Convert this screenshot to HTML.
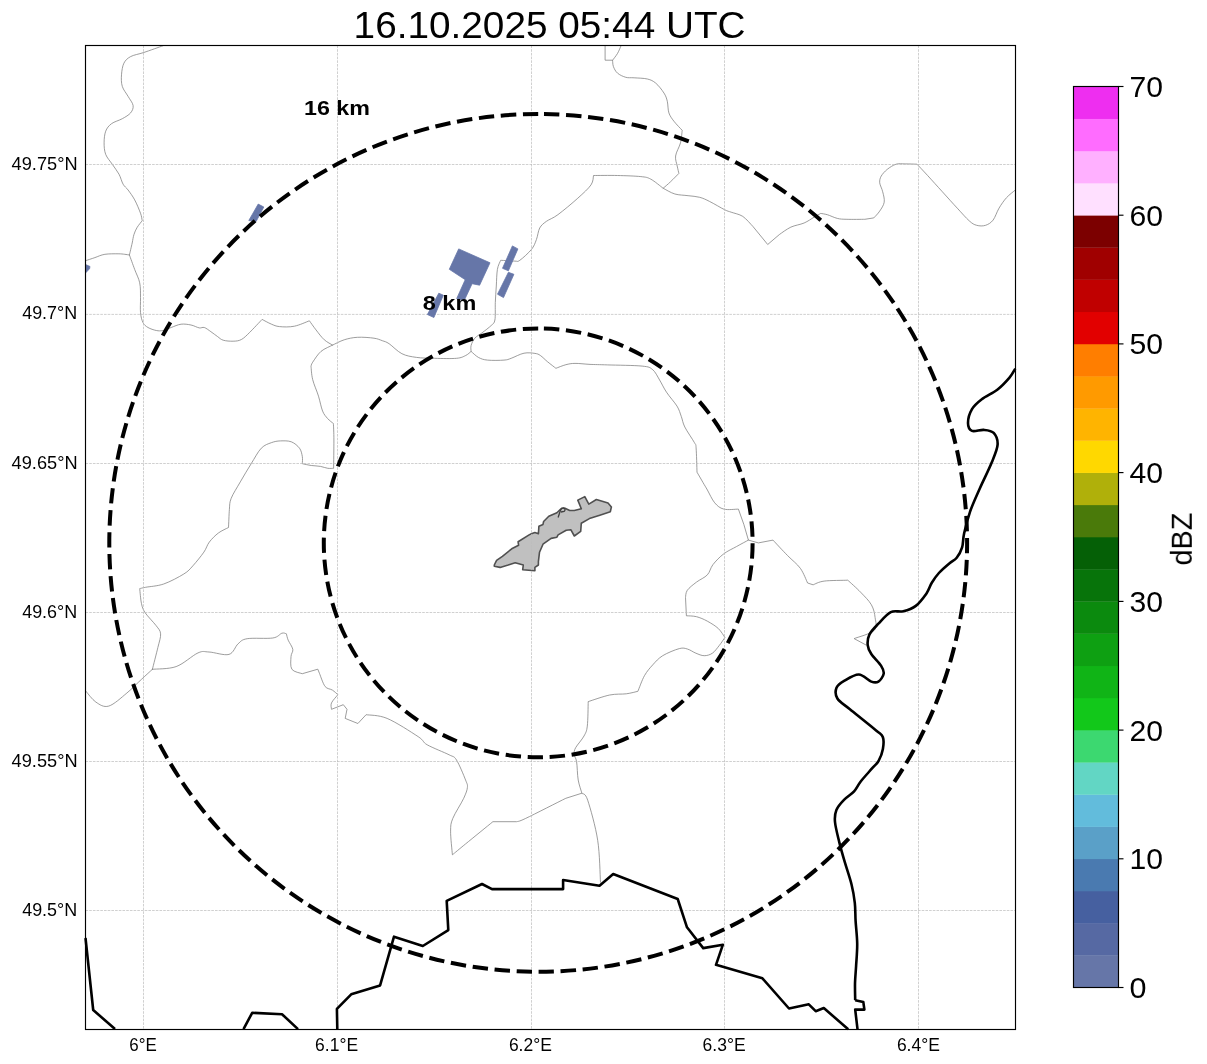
<!DOCTYPE html>
<html><head><meta charset="utf-8"><style>
html,body{margin:0;padding:0;background:#fff;width:1207px;height:1064px;overflow:hidden}
svg{display:block}
</style></head><body>
<svg width="1207" height="1064" viewBox="0 0 1207 1064">
<rect width="1207" height="1064" fill="#fff"/>
<g stroke="#7c7c7c" stroke-width="0.75" fill="none" stroke-linejoin="round" stroke-linecap="round"><path d="M162.9,45.8 C159.7,46.9 149.2,50.7 143.8,52.5 C138.4,54.3 133.9,54.8 130.6,56.6 C127.3,58.4 125.4,60.2 123.9,63.2 C122.4,66.2 121.8,70.9 121.5,74.8 C121.2,78.7 121.2,82.8 122.3,86.4 C123.4,90.0 126.3,93.2 128.1,96.4 C129.9,99.6 132.7,102.8 133.1,105.5 C133.5,108.2 132.4,110.7 130.6,112.9 C128.8,115.1 125.5,116.9 122.3,118.7 C119.1,120.5 114.3,121.6 111.5,123.7 C108.7,125.8 106.9,128.0 105.7,131.2 C104.5,134.4 104.1,138.9 104.1,142.8 C104.1,146.7 104.3,150.8 105.7,154.4 C107.1,158.0 110.1,161.0 112.3,164.3 C114.5,167.6 117.2,170.9 119.0,174.2 C120.8,177.5 121.6,181.6 123.1,184.2 C124.6,186.8 126.2,187.4 128.1,190.0 C130.0,192.6 132.6,196.0 134.7,199.9 C136.8,203.8 139.2,209.7 140.5,213.2 C141.8,216.7 141.9,219.4 142.2,220.7 L142.2,220.7 C141.4,221.8 138.6,225.0 137.2,227.3 C135.8,229.6 134.7,232.1 133.9,234.7 C133.1,237.3 132.9,239.6 132.2,243.0 C131.4,246.4 129.9,253.0 129.4,255.0 L129.4,255.0 C130.3,257.4 133.0,264.9 134.7,269.5 C136.4,274.1 138.7,278.1 139.7,282.8 C140.7,287.5 140.4,292.7 140.5,297.7 C140.6,302.7 140.1,308.5 140.5,312.6 C140.9,316.8 141.8,320.1 143.0,322.6 C144.2,325.1 145.8,326.2 148.0,327.5 C150.2,328.8 153.8,330.0 156.3,330.5 C158.8,331.0 160.4,331.0 162.9,330.5 C165.4,330.0 168.2,328.6 171.2,327.5 C174.2,326.4 177.8,324.6 181.1,324.2 C184.4,323.8 188.0,324.4 191.0,325.0 C194.0,325.6 197.1,327.5 199.3,327.9 C201.5,328.3 202.4,326.9 204.3,327.5 C206.2,328.1 208.7,330.2 210.9,331.7 C213.1,333.2 215.6,335.2 217.6,336.6 C219.6,338.0 220.6,339.4 223.2,340.2 C225.8,341.0 230.1,341.3 233.1,341.2 C236.1,341.1 238.6,341.0 241.4,339.5 C244.2,338.0 246.2,335.8 249.7,332.4 C253.1,329.0 260.0,321.6 262.1,319.4 L262.1,319.4 C263.6,320.2 268.4,322.9 271.3,324.1 C274.2,325.3 275.6,326.2 279.5,326.6 C283.4,327.0 289.4,327.2 294.4,326.2 C299.4,325.2 306.9,321.7 309.4,320.8 L309.4,320.8 C310.5,322.3 313.5,326.7 316.0,329.9 C318.5,333.1 321.5,337.3 324.3,339.8 C327.1,342.3 331.2,344.2 332.6,345.1 L332.6,345.1 C334.5,344.2 340.1,341.1 344.2,339.8 C348.3,338.5 352.4,337.6 357.4,337.3 C362.4,337.0 369.9,337.6 374.0,338.2 C378.1,338.8 379.8,339.8 382.3,340.7 C384.8,341.6 385.8,341.5 389.1,343.7 C392.4,345.9 397.3,351.4 401.9,353.7 C406.5,356.0 411.0,356.6 416.5,357.4 C422.0,358.2 428.0,358.1 434.7,358.3 C441.4,358.5 451.4,358.8 456.6,358.3 C461.8,357.8 463.3,356.6 465.7,355.5 C468.1,354.4 470.2,352.1 471.1,351.4 L471.1,351.4 C472.3,352.4 475.7,355.9 478.4,357.4 C481.1,358.8 483.2,359.7 487.5,360.1 C491.8,360.6 500.1,360.4 504.0,360.1 C507.9,359.8 507.9,359.5 511.2,358.3 C514.5,357.1 520.0,354.0 524.0,353.2 C528.0,352.4 532.2,353.0 534.9,353.4 C537.6,353.8 538.3,354.1 540.4,355.5 C542.5,356.9 545.1,359.8 547.7,361.9 C550.3,364.0 554.5,367.2 555.9,368.3 L555.9,368.3 C557.6,367.7 562.7,365.5 565.9,364.7 C569.1,363.9 571.0,363.4 575.0,363.4 C579.0,363.3 584.6,364.1 590.0,364.4 C595.4,364.6 598.7,364.6 607.4,364.9 C616.1,365.2 634.7,365.3 642.2,366.1 C649.7,366.9 649.7,367.3 652.6,369.6 C655.5,371.9 657.3,376.2 659.6,380.0 C661.9,383.8 663.6,387.8 666.5,392.2 C669.4,396.6 674.5,402.1 677.0,406.1 C679.5,410.2 680.0,413.0 681.3,416.5 C682.6,420.0 682.6,422.6 684.8,427.0 C687.0,431.4 692.5,439.1 694.4,442.6 C696.3,446.1 695.7,443.0 696.1,447.9 C696.5,452.8 696.9,468.1 697.0,472.2 L697.0,472.2 C698.0,473.9 701.4,479.7 703.1,482.7 C704.8,485.7 705.5,486.6 707.4,490.0 C709.3,493.4 712.0,499.6 714.7,502.8 C717.4,506.0 719.8,508.1 723.8,509.1 C727.8,510.2 736.0,509.1 738.4,509.1 L738.4,509.1 L743.9,524.6 L743.9,524.6 L748.4,540.1 L748.4,540.1 L758.4,542.9 L758.4,542.9 L773.0,540.1 L773.0,540.1 C775.4,542.7 783.0,550.9 787.6,555.6 C792.2,560.3 797.1,563.8 800.4,568.4 C803.7,573.0 806.4,580.6 807.6,583.0 L807.6,583.0 L813.1,584.8 L813.1,584.8 C814.9,584.2 818.3,581.9 824.1,581.1 C829.9,580.3 843.8,580.4 847.8,580.2 L847.8,580.2 C849.9,582.2 856.6,588.0 860.5,592.1 C864.4,596.2 869.0,600.5 871.4,604.8 C873.8,609.0 874.6,613.3 875.1,617.6 C875.6,621.9 877.7,626.9 874.2,630.4 C870.7,633.9 857.5,637.2 854.1,638.6 L854.1,638.6 L866.0,645.0"/><path d="M129.4,255.0 C128.6,254.9 126.7,254.5 124.8,254.3 C122.9,254.1 121.4,253.8 118.1,253.8 C114.8,253.8 108.8,253.7 104.9,254.3 C101.0,254.9 98.1,256.5 94.9,257.6 C91.7,258.7 87.1,260.2 85.5,260.7"/><path d="M332.6,345.1 C330.7,346.2 324.3,348.5 321.0,351.4 C317.7,354.2 314.4,359.7 312.7,362.2 C311.0,364.7 311.3,365.6 311.0,366.3 L311.0,366.3 C311.3,368.5 311.4,374.6 312.7,379.6 C313.9,384.6 316.9,390.9 318.5,396.2 C320.1,401.4 321.1,407.4 322.6,411.1 C324.1,414.8 325.8,416.4 327.6,418.5 C329.4,420.6 332.4,422.7 333.4,423.5 L333.4,423.5 C333.5,426.2 333.9,432.5 333.9,440.0 C333.9,447.5 333.7,463.6 333.6,468.3 L333.6,468.3 C332.6,468.3 330.0,468.6 327.8,468.3 C325.6,468.0 323.2,466.9 320.5,466.4 C317.8,465.9 314.4,465.9 311.4,465.5 C308.4,465.1 303.8,464.0 302.3,463.7 L302.3,463.7 C302.3,462.5 302.8,459.0 302.3,456.4 C301.8,453.8 301.3,450.6 299.5,448.2 C297.7,445.8 294.5,443.0 291.3,441.8 C288.1,440.6 283.7,440.8 280.4,440.9 C277.1,441.0 274.5,441.5 271.3,442.7 C268.1,443.9 264.7,444.7 261.3,448.2 C257.9,451.7 254.7,458.1 251.2,463.7 C247.7,469.3 243.6,476.1 240.3,481.9 C237.0,487.7 233.0,493.7 231.2,498.3 C229.4,502.9 229.8,504.4 229.4,509.3 C229.0,514.2 228.7,524.5 228.5,527.5 L228.5,527.5 C226.8,528.4 221.6,530.6 218.4,533.0 C215.2,535.4 211.7,538.9 209.3,542.1 C206.9,545.3 206.6,548.2 203.9,552.1 C201.2,556.0 196.2,562.1 192.9,565.8 C189.6,569.4 188.7,571.0 183.8,574.0 C178.9,577.0 170.1,581.8 163.7,584.0 C157.3,586.2 149.5,586.5 145.5,587.3 C141.5,588.1 140.7,588.4 139.7,588.6 L139.7,588.6 C140.0,591.1 140.6,599.7 141.5,603.7 C142.4,607.7 142.8,609.1 145.2,612.8 C147.6,616.4 153.5,622.1 156.1,625.6 C158.7,629.1 160.3,630.2 160.6,633.8 C160.9,637.4 159.3,641.5 157.9,647.4 C156.5,653.3 153.3,665.6 152.4,669.3"/><path d="M152.4,669.3 C150.6,671.0 145.8,675.3 141.5,679.3 C137.2,683.2 132.4,688.5 126.9,693.0 C121.4,697.5 113.9,704.6 108.7,706.1 C103.5,707.6 99.7,704.6 95.9,702.1 C92.1,699.6 87.6,693.0 85.9,691.2"/><path d="M152.4,669.3 C156.3,668.8 168.5,669.3 176.1,666.6 C183.7,663.9 192.5,655.3 198.0,652.9 C203.5,650.5 203.8,651.8 209.0,652.0 C214.2,652.2 224.2,655.8 229.0,654.4 C233.8,653.0 235.1,646.4 238.1,643.8 C241.1,641.2 241.4,639.7 247.2,638.7 C253.0,637.7 267.0,638.9 272.8,638.0 C278.6,637.1 279.6,633.9 281.9,633.2 C284.2,632.5 285.6,633.7 286.4,633.8 L286.4,633.8 C286.7,634.9 287.1,637.6 288.2,640.2 C289.3,642.8 292.3,646.6 292.8,649.3 C293.3,652.0 291.1,653.3 291.0,656.6 C290.9,659.9 290.0,666.4 291.9,669.3 C293.8,672.1 300.6,673.0 302.3,673.7 L302.3,673.7 L317.8,669.2 L317.8,669.2 L319.6,673.7 L319.6,673.7 C320.5,675.8 323.0,683.8 325.1,686.5 C327.2,689.2 330.3,688.7 332.4,690.1 C334.5,691.5 337.0,693.9 337.9,694.7 L337.9,694.7 C336.8,696.1 332.6,700.5 331.5,702.9 C330.4,705.3 331.5,708.2 331.5,709.3 L331.5,709.3 L343.3,704.7 L343.3,704.7 L347.0,709.3 L347.0,709.3 L345.2,718.4 L345.2,718.4 L357.9,723.5 L357.9,723.5 L366.1,714.7 L366.1,714.7 C369.6,715.3 378.4,714.8 387.1,718.4 C395.8,722.0 411.4,732.2 418.1,736.6 C424.8,741.0 422.0,741.8 427.2,744.8 C432.4,747.8 444.2,752.3 449.1,754.8 C454.0,757.3 453.8,755.8 456.5,760.0 C459.2,764.2 463.8,775.5 465.6,780.1 C467.4,784.7 467.7,784.4 467.4,787.4 C467.1,790.4 466.1,793.1 463.7,798.3 C461.3,803.5 455.0,812.9 452.8,818.4 C450.6,823.9 450.7,825.0 450.6,831.1 C450.5,837.2 452.1,850.8 452.4,854.8 L452.4,854.8 C454.6,853.0 458.9,849.4 465.6,843.9 C472.4,838.4 488.3,825.4 492.9,821.7 L492.9,821.7 L516.6,821.7 L516.6,821.7 C518.1,821.2 517.5,822.3 525.7,818.4 C533.9,814.5 559.1,801.6 565.8,798.3 L565.8,798.3 L581.9,793.2 L581.9,793.2 C582.9,794.4 585.1,792.4 587.7,800.2 C590.3,808.1 595.6,826.6 597.7,840.3 C599.8,854.0 600.0,875.2 600.5,882.2"/><path d="M748.4,540.1 C746.4,541.2 740.7,544.2 736.6,546.5 C732.5,548.8 727.8,550.8 723.8,553.8 C719.8,556.8 715.6,561.2 712.9,564.7 C710.2,568.2 710.1,571.9 707.4,574.8 C704.7,577.7 699.9,579.5 696.5,582.1 C693.1,584.7 689.1,587.7 687.3,590.3 C685.5,592.9 685.8,596.3 685.5,597.5 L685.5,597.5 L686.4,615.8 L686.4,615.8 C688.1,615.9 693.0,615.8 696.5,616.7 C700.0,617.6 703.8,619.2 707.4,621.2 C711.0,623.2 715.4,625.8 718.3,628.5 C721.2,631.2 723.8,636.0 724.9,637.5 L724.9,637.5 C723.9,638.9 721.2,643.1 719.1,645.7 C717.0,648.3 714.9,651.5 712.4,653.2 C709.9,654.9 707.0,655.7 704.2,655.7 C701.5,655.7 698.7,654.3 695.9,653.2 C693.1,652.1 690.4,649.9 687.6,649.1 C684.8,648.3 683.4,647.5 679.3,648.6 C675.1,649.7 667.1,653.0 662.7,655.7 C658.3,658.4 655.8,661.5 652.8,664.8 C649.8,668.1 647.0,671.2 644.5,675.6 C642.0,680.0 639.0,688.7 637.9,691.3 L637.9,691.3 C636.0,691.7 631.0,693.2 626.3,693.8 C621.6,694.4 616.1,693.7 609.7,695.0 C603.4,696.3 591.8,700.5 588.2,701.6 L588.2,701.6 C588.1,705.7 588.0,720.4 587.3,726.1 C586.6,731.8 585.9,732.4 584.0,736.0 C582.1,739.6 577.4,744.6 575.7,747.6 C574.1,750.6 574.0,751.9 574.1,754.3 C574.2,756.6 575.9,757.4 576.6,761.7 C577.3,766.0 577.3,774.8 578.2,780.0 C579.1,785.2 581.3,791.0 581.9,793.2"/><path d="M605.1,45.8 L605.1,60.2 L605.1,60.2 L612.6,60.2 L612.6,60.2 C612.7,61.2 612.6,64.3 613.4,66.5 C614.2,68.7 615.5,71.4 617.6,73.2 C619.7,75.0 623.0,76.5 625.8,77.3 C628.5,78.1 630.5,77.5 634.1,77.8 C637.7,78.1 643.8,78.1 647.4,79.0 C651.0,79.9 652.9,80.8 655.7,83.1 C658.5,85.4 662.1,90.1 664.0,93.1 C665.9,96.1 666.5,98.0 667.3,101.3 C668.1,104.6 667.8,109.6 668.9,112.9 C670.0,116.2 671.7,118.3 673.9,121.2 C676.1,124.1 680.8,128.8 682.2,130.3 L682.2,130.3 C681.9,132.4 681.6,138.5 680.5,142.8 C679.4,147.1 676.1,152.1 675.6,156.0 C675.1,159.9 676.7,163.1 677.2,166.0 C677.8,168.9 678.6,172.2 678.9,173.4 L678.9,173.4 C677.5,174.8 673.2,179.2 670.6,181.7 C668.0,184.2 664.4,187.2 663.1,188.3"/><path d="M612.6,60.2 C613.4,59.1 616.2,55.7 617.6,53.3 C619.0,50.9 620.4,47.2 620.9,46.0"/><path d="M471.1,351.4 C471.1,350.4 470.5,347.7 471.1,345.5 C471.7,343.3 473.0,340.3 474.8,338.2 C476.6,336.1 479.4,334.9 482.1,332.8 C484.8,330.7 489.1,327.6 491.2,325.5 C493.3,323.4 494.2,323.8 494.9,320.0 C495.6,316.2 495.1,308.3 495.3,302.6 C495.5,296.9 496.0,291.5 496.3,286.0 C496.6,280.5 496.7,273.7 497.4,269.4 C498.1,265.1 500.1,261.8 500.7,260.3 L500.7,260.3 C503.0,260.4 511.6,261.1 514.8,261.1 C518.0,261.1 517.0,262.2 519.8,260.3 C522.6,258.4 528.6,252.9 531.4,249.5 C534.2,246.1 535.0,243.2 536.4,239.6 C537.8,236.0 538.1,231.0 539.7,228.0 C541.4,225.0 543.3,223.6 546.3,221.4 C549.3,219.2 552.6,218.6 557.9,214.7 C563.1,210.8 572.3,203.2 577.8,198.2 C583.3,193.2 588.4,188.7 591.0,184.9 C593.6,181.1 593.1,177.1 593.5,175.5 L593.5,175.5 C597.5,175.5 609.7,175.3 617.6,175.5 C625.5,175.7 635.3,176.0 640.8,176.6 C646.3,177.2 647.0,177.2 650.7,179.1 C654.4,181.0 661.0,186.7 663.1,188.2 L663.1,188.2 C665.1,189.2 670.7,192.8 674.9,194.0 C679.1,195.2 684.0,195.1 688.1,195.7 C692.2,196.2 696.1,196.3 699.7,197.3 C703.3,198.3 705.6,199.4 709.7,201.5 C713.9,203.6 721.0,207.9 724.6,209.7 C728.2,211.5 728.2,211.1 731.2,212.2 C734.2,213.3 739.2,214.1 742.8,216.4 C746.4,218.8 751.1,224.7 752.8,226.3 L752.8,226.3 L767.7,244.5 L767.7,244.5 L779.3,234.6 L779.3,234.6 C781.2,233.3 786.8,229.0 790.9,227.1 C795.0,225.2 800.2,224.7 804.1,223.0 C808.0,221.3 811.3,218.8 814.1,217.2 C816.9,215.6 819.6,214.0 820.7,213.4 L820.7,213.4 C821.8,213.6 824.5,213.9 827.3,214.7 C830.1,215.5 834.0,217.6 837.3,218.4 C840.6,219.2 842.3,219.2 846.9,219.3 C851.5,219.5 861.8,219.3 864.8,219.3 L864.8,219.3 L873.8,217.9 L873.8,217.9 C874.8,216.8 878.0,213.7 879.7,211.1 C881.4,208.5 883.7,205.4 884.2,202.2 C884.7,199.0 883.5,195.0 882.7,191.8 C882.0,188.6 880.0,185.4 879.7,182.8 C879.5,180.2 880.0,178.3 881.2,176.1 C882.5,173.9 884.7,171.4 887.2,169.4 C889.7,167.4 893.1,165.1 896.1,164.2 C899.1,163.3 901.6,163.9 905.1,163.9 C908.6,163.9 915.0,164.1 917.0,164.2 L917.0,164.2 C918.8,166.1 923.3,170.8 927.5,175.4 C931.7,180.0 937.4,186.3 942.4,191.8 C947.4,197.3 952.8,203.4 957.3,208.2 C961.8,213.0 966.0,218.0 969.2,220.8 C972.4,223.7 974.0,224.6 976.7,225.3 C979.4,226.1 982.9,226.2 985.6,225.3 C988.3,224.4 990.9,222.9 993.1,220.1 C995.3,217.2 996.8,211.9 999.0,208.2 C1001.2,204.5 1003.8,200.7 1006.5,197.7 C1009.2,194.7 1013.6,191.5 1015.0,190.3"/></g>
<polygon points="494.3,565.0 496.6,560.4 502.4,556.3 511.7,548.8 518.6,545.3 518.1,541.8 529.1,534.9 531.4,533.7 534.9,532.6 538.4,533.7 538.9,526.2 543.0,524.4 543.6,521.5 548.8,516.3 556.9,512.8 561.6,508.2 565.0,508.2 569.7,510.5 574.3,510.5 581.3,508.8 577.8,500.1 584.8,496.6 588.8,504.1 596.4,499.5 608.0,503.0 611.4,507.0 610.3,511.7 599.8,515.2 589.4,518.6 581.3,523.3 580.7,531.4 574.3,536.0 570.8,529.7 566.2,530.2 558.1,534.9 556.9,537.2 551.1,538.4 543.0,544.2 539.5,552.3 538.4,561.6 538.4,565.0 534.9,567.4 534.9,570.8 522.7,569.7 523.3,565.0 515.2,562.7 508.2,565.0 500.1,567.4 494.3,566.2" fill="#c0c0c0" stroke="#505050" stroke-width="1.6" stroke-linejoin="round"/>
<path d="M558.1,517.5 L560.4,510.5 Q561.5,507.5 564,508 Q566,509.5 564,511.5 L561,512" fill="none" stroke="#404040" stroke-width="1.3"/>
<g stroke="#bcbcbc" stroke-width="0.7" stroke-dasharray="2.6 1.1" fill="none"><line x1="143.5" y1="45.5" x2="143.5" y2="1029.5"/><line x1="337.5" y1="45.5" x2="337.5" y2="1029.5"/><line x1="531.5" y1="45.5" x2="531.5" y2="1029.5"/><line x1="724.5" y1="45.5" x2="724.5" y2="1029.5"/><line x1="918.5" y1="45.5" x2="918.5" y2="1029.5"/><line x1="85.5" y1="164.5" x2="1015.5" y2="164.5"/><line x1="85.5" y1="314.4" x2="1015.5" y2="314.4"/><line x1="85.5" y1="463.5" x2="1015.5" y2="463.5"/><line x1="85.5" y1="612.5" x2="1015.5" y2="612.5"/><line x1="85.5" y1="761.5" x2="1015.5" y2="761.5"/><line x1="85.5" y1="910.5" x2="1015.5" y2="910.5"/></g>
<g fill="#6676a8" stroke="#6676a8" stroke-width="0.8" stroke-linejoin="round"><polygon points="458.7,248.9 490.0,262.8 479.6,285.2 472.1,283.7 464.2,300.6 456.7,298.6 465.2,279.7 449.3,269.3"/><polygon points="438.8,293.2 443.3,295.2 433.9,317.5 427.4,314.5"/><polygon points="512.4,245.9 517.9,248.9 508.4,270.8 502.5,268.3"/><polygon points="508.4,272.3 513.9,274.3 503.5,297.6 497.5,294.2"/><polygon points="258.2,204.1 263.8,207.0 256.1,221.5 248.8,220.5"/><polygon points="85.5,264.5 90.0,266.5 89.5,268.8 86.0,272.5"/></g>
<g stroke="#000" stroke-width="2.6" fill="none" stroke-linejoin="round" stroke-linecap="butt"><polyline points="243.5,1029.1 252.2,1012.8 282.0,1014.2 298.0,1029.1"/><polyline points="337.3,1029.1 336.9,1008.9 351.2,994.3 380.1,985.4 394.0,936.7 422.8,946.0 448.3,930.1 446.7,900.9 482.0,884.0 492.0,889.1 563.1,889.1 563.1,880.0 599.5,885.8 613.2,874.0 677.7,899.0 687.0,927.3 703.2,948.1 722.9,944.7 716.0,964.8 762.4,978.3 789.0,1008.5 808.8,1004.3 815.7,1011.2 823.8,1008.0 848.2,1029.3"/><polyline points="85.5,938.0 93.2,1010.0 115.0,1029.1"/><polyline points="857.5,1029.1 855.2,1009.6 864.4,1009.6 863.3,1002.0 855.2,1000.3"/><path d="M855.2,1000.3 C855.2,997.6 854.9,989.7 855.0,984.0 C855.1,978.3 855.7,972.8 856.1,966.0 C856.5,959.2 857.3,950.9 857.2,943.4 C857.1,935.9 856.0,927.6 855.6,920.8 C855.2,914.0 855.5,908.8 854.8,902.8 C854.1,896.8 853.3,891.5 851.6,884.7 C849.9,877.9 846.9,869.3 844.8,862.2 C842.7,855.1 840.8,848.6 839.2,841.9 C837.6,835.2 835.5,827.3 835.0,822.0 C834.5,816.7 834.9,813.6 836.4,809.9 C837.9,806.2 841.0,802.9 844.0,799.8 C847.0,796.7 851.3,794.4 854.1,791.3 C856.9,788.2 857.8,785.1 860.9,781.2 C864.0,777.3 869.8,771.1 872.7,767.7 C875.7,764.3 876.9,764.0 878.6,760.9 C880.3,757.8 882.2,753.0 882.9,749.0 C883.6,745.0 884.0,740.3 882.9,737.2 C881.8,734.1 881.6,735.1 876.1,730.4 C870.6,725.7 856.4,714.5 849.9,709.2 C843.4,703.9 839.6,702.1 837.4,698.5 C835.2,694.9 835.3,690.8 836.5,687.8 C837.7,684.8 840.8,682.9 844.5,680.7 C848.2,678.5 854.3,674.4 858.8,674.5 C863.3,674.6 868.0,680.4 871.3,681.6 C874.6,682.8 876.3,682.9 878.4,681.6 C880.5,680.3 883.3,676.3 883.7,673.6 C884.1,670.9 883.1,668.9 881.0,665.6 C878.9,662.3 873.5,657.4 871.3,654.0 C869.1,650.6 868.0,648.4 867.7,645.1 C867.4,641.8 867.7,638.0 869.5,634.4 C871.3,630.8 874.9,627.4 878.4,623.7 C881.9,620.0 886.6,614.2 890.8,612.1 C894.9,610.0 899.1,612.3 903.3,611.3 C907.5,610.3 911.9,608.9 915.8,605.9 C919.7,602.9 923.8,597.2 926.5,593.4 C929.2,589.5 929.7,586.2 931.8,582.8 C933.9,579.4 935.9,576.3 938.9,573.0 C941.9,569.7 946.6,565.7 949.6,563.2 C952.6,560.7 954.6,560.4 956.7,557.8 C958.8,555.2 960.9,551.4 962.1,547.4 C963.3,543.4 962.8,539.4 964.1,533.5 C965.4,527.6 967.4,519.4 970.0,511.8 C972.6,504.2 976.3,496.4 979.9,488.2 C983.5,480.0 988.8,469.8 991.7,462.5 C994.7,455.2 997.3,449.6 997.6,444.7 C997.9,439.8 996.0,435.4 993.7,432.9 C991.4,430.4 987.4,430.2 983.8,429.9 C980.2,429.6 974.6,432.0 972.0,430.9 C969.4,429.8 968.0,426.6 968.0,423.0 C968.0,419.4 969.7,413.1 972.0,409.2 C974.3,405.2 977.5,402.6 981.8,399.3 C986.1,396.0 993.0,393.1 997.6,389.5 C1002.2,385.9 1006.5,381.1 1009.5,377.6 C1012.5,374.1 1014.3,370.2 1015.3,368.7"/></g>
<path d="M538.2,114.00 A428.9,428.9 0 0 0 538.2,971.80 A428.9,428.9 0 0 0 538.2,114.00" fill="none" stroke="#000" stroke-width="4.0" stroke-dasharray="15.42 6.67"/>
<path d="M538.2,328.50 A214.4,214.4 0 0 0 538.2,757.30 A214.4,214.4 0 0 0 538.2,328.50" fill="none" stroke="#000" stroke-width="4.0" stroke-dasharray="15.42 6.67"/>
<rect x="85.5" y="45.5" width="930.0" height="984.0" fill="none" stroke="#000" stroke-width="1.15"/>
<rect x="1073.5" y="955.32" width="45.0" height="32.48" fill="#6676a8"/><rect x="1073.5" y="923.14" width="45.0" height="32.48" fill="#5669a3"/><rect x="1073.5" y="890.96" width="45.0" height="32.48" fill="#4660a0"/><rect x="1073.5" y="858.79" width="45.0" height="32.48" fill="#4a7ab0"/><rect x="1073.5" y="826.61" width="45.0" height="32.48" fill="#5aa0c8"/><rect x="1073.5" y="794.43" width="45.0" height="32.48" fill="#62bcdc"/><rect x="1073.5" y="762.25" width="45.0" height="32.48" fill="#62d6c4"/><rect x="1073.5" y="730.07" width="45.0" height="32.48" fill="#3cd870"/><rect x="1073.5" y="697.89" width="45.0" height="32.48" fill="#12c81a"/><rect x="1073.5" y="665.71" width="45.0" height="32.48" fill="#10b416"/><rect x="1073.5" y="633.54" width="45.0" height="32.48" fill="#0ea012"/><rect x="1073.5" y="601.36" width="45.0" height="32.48" fill="#0b8a0e"/><rect x="1073.5" y="569.18" width="45.0" height="32.48" fill="#07740a"/><rect x="1073.5" y="537.00" width="45.0" height="32.48" fill="#056006"/><rect x="1073.5" y="504.82" width="45.0" height="32.48" fill="#4a7a0a"/><rect x="1073.5" y="472.64" width="45.0" height="32.48" fill="#b0b00a"/><rect x="1073.5" y="440.46" width="45.0" height="32.48" fill="#ffd800"/><rect x="1073.5" y="408.29" width="45.0" height="32.48" fill="#ffb400"/><rect x="1073.5" y="376.11" width="45.0" height="32.48" fill="#ff9a00"/><rect x="1073.5" y="343.93" width="45.0" height="32.48" fill="#ff7e00"/><rect x="1073.5" y="311.75" width="45.0" height="32.48" fill="#e20000"/><rect x="1073.5" y="279.57" width="45.0" height="32.48" fill="#c00000"/><rect x="1073.5" y="247.39" width="45.0" height="32.48" fill="#a00000"/><rect x="1073.5" y="215.21" width="45.0" height="32.48" fill="#7c0000"/><rect x="1073.5" y="183.04" width="45.0" height="32.48" fill="#ffe0ff"/><rect x="1073.5" y="150.86" width="45.0" height="32.48" fill="#ffb0ff"/><rect x="1073.5" y="118.68" width="45.0" height="32.48" fill="#ff6cff"/><rect x="1073.5" y="86.50" width="45.0" height="32.48" fill="#ee2ef0"/><rect x="1073.5" y="86.5" width="45.0" height="901.0" fill="none" stroke="#000" stroke-width="1.15"/><line x1="1118.5" y1="987.5" x2="1123.5" y2="987.5" stroke="#000" stroke-width="1.15"/><line x1="1118.5" y1="858.8" x2="1123.5" y2="858.8" stroke="#000" stroke-width="1.15"/><line x1="1118.5" y1="730.1" x2="1123.5" y2="730.1" stroke="#000" stroke-width="1.15"/><line x1="1118.5" y1="601.4" x2="1123.5" y2="601.4" stroke="#000" stroke-width="1.15"/><line x1="1118.5" y1="472.6" x2="1123.5" y2="472.6" stroke="#000" stroke-width="1.15"/><line x1="1118.5" y1="343.9" x2="1123.5" y2="343.9" stroke="#000" stroke-width="1.15"/><line x1="1118.5" y1="215.2" x2="1123.5" y2="215.2" stroke="#000" stroke-width="1.15"/><line x1="1118.5" y1="86.5" x2="1123.5" y2="86.5" stroke="#000" stroke-width="1.15"/>
<g font-family='"Liberation Sans", sans-serif' fill="#000" style="opacity:0.999"><text x="549.6" y="38.3" font-size="36" text-anchor="middle" font-weight="normal" textLength="392" lengthAdjust="spacingAndGlyphs">16.10.2025 05:44 UTC</text><text x="77.6" y="170.1" font-size="18" text-anchor="end" font-weight="normal" textLength="66" lengthAdjust="spacingAndGlyphs">49.75°N</text><text x="77.2" y="319.0" font-size="18" text-anchor="end" font-weight="normal" textLength="55" lengthAdjust="spacingAndGlyphs">49.7°N</text><text x="77.6" y="469.0" font-size="18" text-anchor="end" font-weight="normal" textLength="66" lengthAdjust="spacingAndGlyphs">49.65°N</text><text x="77.2" y="618.2" font-size="18" text-anchor="end" font-weight="normal" textLength="55" lengthAdjust="spacingAndGlyphs">49.6°N</text><text x="77.6" y="766.9" font-size="18" text-anchor="end" font-weight="normal" textLength="66" lengthAdjust="spacingAndGlyphs">49.55°N</text><text x="77.2" y="916.2" font-size="18" text-anchor="end" font-weight="normal" textLength="55" lengthAdjust="spacingAndGlyphs">49.5°N</text><text x="143.0" y="1051.0" font-size="18" text-anchor="middle" font-weight="normal" textLength="27.5" lengthAdjust="spacingAndGlyphs">6°E</text><text x="336.6" y="1051.0" font-size="18" text-anchor="middle" font-weight="normal" textLength="43" lengthAdjust="spacingAndGlyphs">6.1°E</text><text x="530.4" y="1051.0" font-size="18" text-anchor="middle" font-weight="normal" textLength="43" lengthAdjust="spacingAndGlyphs">6.2°E</text><text x="724.1" y="1051.0" font-size="18" text-anchor="middle" font-weight="normal" textLength="43" lengthAdjust="spacingAndGlyphs">6.3°E</text><text x="918.4" y="1051.0" font-size="18" text-anchor="middle" font-weight="normal" textLength="43" lengthAdjust="spacingAndGlyphs">6.4°E</text><text x="304.0" y="115.4" font-size="19.5" text-anchor="start" font-weight="bold" textLength="66" lengthAdjust="spacingAndGlyphs">16 km</text><text x="422.8" y="309.6" font-size="19.5" text-anchor="start" font-weight="bold" textLength="53.5" lengthAdjust="spacingAndGlyphs">8 km</text><text x="1129.6" y="997.8" font-size="30" text-anchor="start" font-weight="normal" textLength="17" lengthAdjust="spacingAndGlyphs">0</text><text x="1129.6" y="869.1" font-size="30" text-anchor="start" font-weight="normal" textLength="33.5" lengthAdjust="spacingAndGlyphs">10</text><text x="1129.6" y="740.5" font-size="30" text-anchor="start" font-weight="normal" textLength="33.5" lengthAdjust="spacingAndGlyphs">20</text><text x="1129.6" y="611.8" font-size="30" text-anchor="start" font-weight="normal" textLength="33.5" lengthAdjust="spacingAndGlyphs">30</text><text x="1129.6" y="483.1" font-size="30" text-anchor="start" font-weight="normal" textLength="33.5" lengthAdjust="spacingAndGlyphs">40</text><text x="1129.6" y="354.4" font-size="30" text-anchor="start" font-weight="normal" textLength="33.5" lengthAdjust="spacingAndGlyphs">50</text><text x="1129.6" y="225.8" font-size="30" text-anchor="start" font-weight="normal" textLength="33.5" lengthAdjust="spacingAndGlyphs">60</text><text x="1129.6" y="97.1" font-size="30" text-anchor="start" font-weight="normal" textLength="33.5" lengthAdjust="spacingAndGlyphs">70</text><text x="0.0" y="0.0" font-size="29" text-anchor="middle" font-weight="normal" textLength="53" lengthAdjust="spacingAndGlyphs" transform="translate(1191.8,539) rotate(-90)">dBZ</text></g>
</svg>
</body></html>
